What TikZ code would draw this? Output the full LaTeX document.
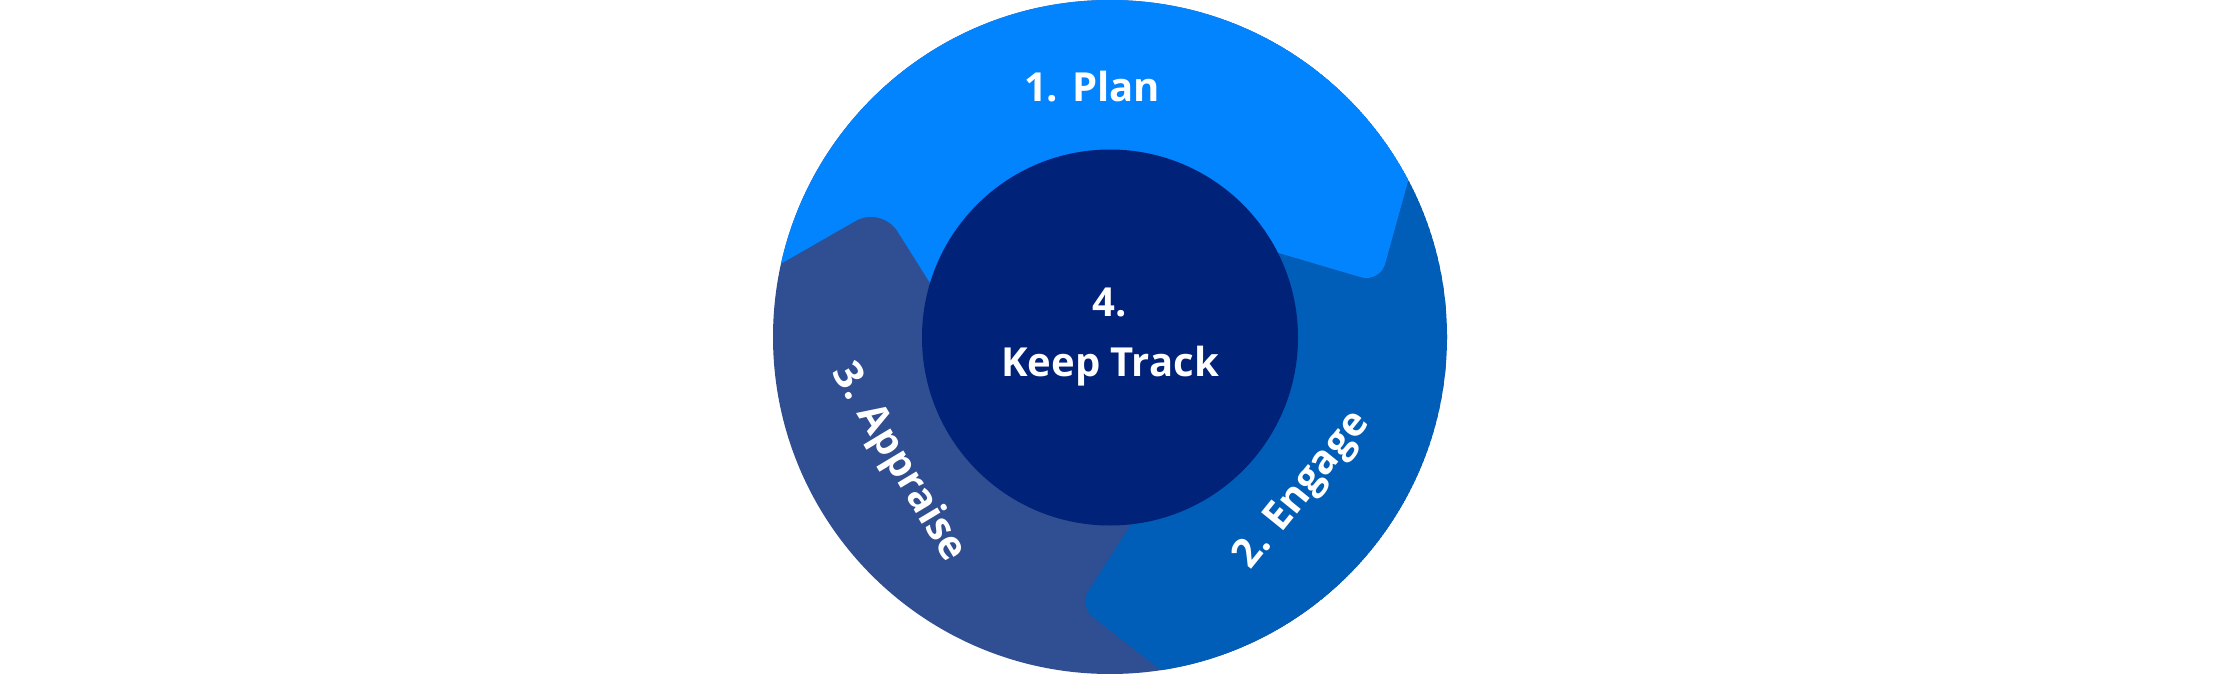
\documentclass[tikz,border=0pt]{standalone}
\usepackage{fontspec}
\setmainfont{Open Sans}
\usetikzlibrary{calc}
\definecolor{planC}{RGB}{3,132,255}
\definecolor{engageC}{RGB}{0,94,184}
\definecolor{appraiseC}{RGB}{48,78,146}
\definecolor{trackC}{RGB}{0,34,120}
\begin{document}
\begin{tikzpicture}[x=1pt,y=-1pt,
  lbl/.style={text=white,font=\bfseries\fontsize{40}{60}\selectfont,inner sep=0pt}]
\useasboundingbox (0,0) rectangle (2220,674);
\coordinate (C) at (1110,337);
% boundary 1 (Plan -> Engage)
\coordinate (O1) at (1419.5,140.5);
\coordinate (V1) at (1380,283);
\coordinate (I1) at (1278,253);
\coordinate (I1x) at (1196,229);
% boundary 2 (Engage -> Appraise)
\coordinate (V2) at (1078.6,606);
\coordinate (I2) at (1132,523);
\coordinate (I2x) at (1162,476);
\coordinate (O2) at (1180,685);
% boundary 3 (Appraise -> Plan)
\coordinate (V3) at (881.6,206);
\coordinate (O3) at (742.5,285.8);
\coordinate (I3) at (930,283);
\coordinate (I3x) at (963,336);
% rounded tips
\coordinate (V1a) at ($(V1)!20pt!(O1)$);
\coordinate (V1b) at ($(V1)!20pt!(I1)$);
\coordinate (V1ac) at ($(V1a)!0.55!(V1)$);
\coordinate (V1bc) at ($(V1b)!0.55!(V1)$);
\coordinate (V2a) at ($(V2)!18pt!(I2)$);
\coordinate (V2b) at ($(V2)!18pt!(O2)$);
\coordinate (V2ac) at ($(V2a)!0.55!(V2)$);
\coordinate (V2bc) at ($(V2b)!0.55!(V2)$);
\coordinate (V3a) at ($(V3)!30pt!(O3)$);
\coordinate (V3b) at ($(V3)!30pt!(I3)$);
\coordinate (V3ac) at ($(V3a)!0.55!(V3)$);
\coordinate (V3bc) at ($(V3b)!0.55!(V3)$);
\begin{scope}
  \clip (C) circle (337pt);
  \fill[appraiseC] (C) circle (337pt);
  \fill[planC] (O3) -- (V3a) .. controls (V3ac) and (V3bc) .. (V3b) -- (I3) -- (I3x) -- (C)
     -- (I1x) -- (I1) -- (V1b) .. controls (V1bc) and (V1ac) .. (V1a) -- (O1)
     -- (1500,-50) -- (700,-50) -- cycle;
  \fill[engageC] (O1) -- (V1a) .. controls (V1ac) and (V1bc) .. (V1b) -- (I1) -- (I1x) -- (C)
     -- (I2x) -- (I2) -- (V2a) .. controls (V2ac) and (V2bc) .. (V2b) -- (O2)
     -- (1300,760) -- (1550,760) -- (1550,100) -- cycle;
\end{scope}
\node[circle,fill=trackC,minimum size=376pt,inner sep=0pt,align=center,lbl] (track) at (1110,337.5) {4.\\Keep Track};
\node[lbl,anchor=base] (plan) at (1092,102) {1. Plan};
\node[lbl,rotate=51] (engage) at (1303,491) {2. Engage};
\node[lbl,rotate=-59] (appraise) at (898,463) {3. Appraise};
\end{tikzpicture}
\end{document}
